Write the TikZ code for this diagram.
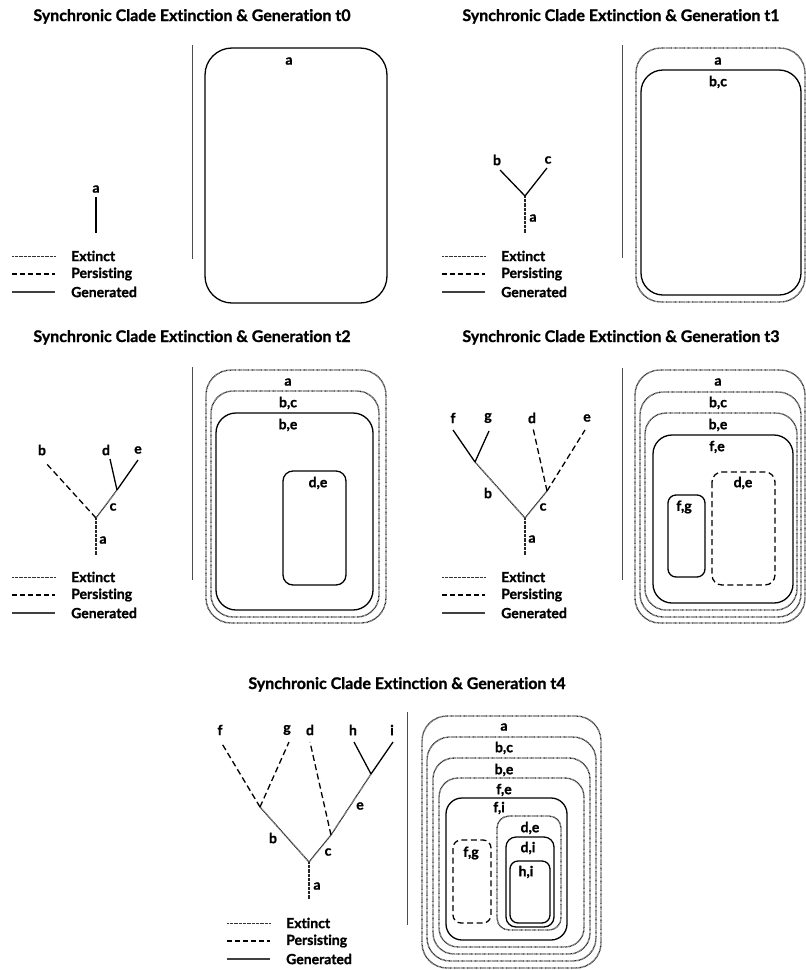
\documentclass[tikz,border=0pt]{standalone}
\usepackage{fontspec}
\setmainfont{Lato}[Ligatures=NoCommon, BoldFeatures={FakeBold=1.2}]
\tikzset{
 ext/.style={line width=1.4pt, dash pattern=on 0.7pt off 0.6pt, black!85},
 pers/.style={line width=1.3pt, dash pattern=on 6pt off 3.5pt},
 gen/.style={line width=1.3pt},
 ttl/.style={font=\fontsize{16}{18}\selectfont\bfseries, anchor=base, inner sep=0pt},
 lbl/.style={font=\fontsize{14}{16}\selectfont\bfseries, inner sep=0pt},
 legtxt/.style={font=\fontsize{14}{16}\selectfont\bfseries, anchor=west, inner sep=0pt},
 divider/.style={line width=1pt, black!70},
 legend/.pic={
   \coordinate (e1) at (0,0); \coordinate (e2) at (43,0);
   \coordinate (p1) at (0,18); \coordinate (p2) at (43,18);
   \coordinate (g1) at (0,36); \coordinate (g2) at (43,36);
   \draw[line width=1pt, dash pattern=on 0.7pt off 0.6pt, black!80] (e1) -- (e2);
   \draw[line width=1.3pt, dash pattern=on 5pt off 3pt] (p1) -- (p2);
   \draw[line width=1.5pt, black!75] (g1) -- (g2);
   \node[legtxt] (te) at (59,0) {Extinct};
   \node[legtxt] (tp) at (59,18) {Persisting};
   \node[legtxt] (tg) at (59,36) {Generated};
 }
}
\begin{document}
\begin{tikzpicture}[x=1pt,y=-1pt]
\useasboundingbox (0,0) rectangle (806,970);
\fill[white] (0,0) rectangle (806,970);

% ================= t0 =================
\node[ttl] (T0) at (192,21) {Synchronic Clade Extinction \& Generation t0};
\coordinate (D0a) at (192,45); \coordinate (D0b) at (192,259);
\draw[divider] (D0a) -- (D0b);
\draw[gen, rounded corners=27pt] (205,48) rectangle (387,303);
\node[lbl] (B0a) at (289,61) {a};
\node[lbl] (L0a) at (96,189) {a};
\coordinate (N0top) at (96,197); \coordinate (N0bot) at (96,233);
\draw[gen] (N0top) -- (N0bot);
\pic (lg0) at (12,256) {legend};

% ================= t1 =================
\node[ttl] (T1) at (621,21) {Synchronic Clade Extinction \& Generation t1};
\coordinate (D1a) at (622,45); \coordinate (D1b) at (622,258);
\draw[divider] (D1a) -- (D1b);
\draw[ext, rounded corners=25pt] (636,48) rectangle (805,302);
\draw[gen, rounded corners=22pt] (641,70) rectangle (801,295);
\node[lbl] (B1a) at (718,61) {a};
\node[lbl] (B1bc) at (718,82) {b,c};
\coordinate (J1) at (525,196); \coordinate (A1) at (525,233);
\coordinate (Bend1) at (500,170); \coordinate (Cend1) at (547,168);
\draw[ext] (J1) -- (A1);
\draw[gen] (J1) -- (Bend1);
\draw[gen] (J1) -- (Cend1);
\node[lbl] (L1b) at (497,160) {b};
\node[lbl] (L1c) at (548,160) {c};
\node[lbl] (L1a) at (533,218) {a};
\pic (lg1) at (442,256) {legend};

% ================= t2 =================
\node[ttl] (T2) at (192,342) {Synchronic Clade Extinction \& Generation t2};
\coordinate (D2a) at (192,367); \coordinate (D2b) at (192,580);
\draw[divider] (D2a) -- (D2b);
\draw[ext, rounded corners=25pt] (206,370) rectangle (386,623);
\draw[ext, rounded corners=22pt] (211,391) rectangle (379,617);
\draw[gen, rounded corners=20pt] (216,413) rectangle (373,610);
\draw[gen, rounded corners=10pt] (283,471) rectangle (346,585);
\node[lbl] (B2a) at (288,382) {a};
\node[lbl] (B2bc) at (288,403) {b,c};
\node[lbl] (B2be) at (288,425) {b,e};
\node[lbl] (B2de) at (318,483) {d,e};
\coordinate (J2) at (96,518); \coordinate (A2) at (96,555);
\coordinate (Bend2) at (45,462); \coordinate (C2) at (117,490);
\coordinate (Dend2) at (110,459); \coordinate (Eend2) at (138,460);
\draw[ext] (J2) -- (A2);
\draw[pers] (J2) -- (Bend2);
\draw[ext] (J2) -- (C2);
\draw[gen] (C2) -- (Dend2);
\draw[gen] (C2) -- (Eend2);
\node[lbl] (L2b) at (42,450) {b};
\node[lbl] (L2d) at (106,450) {d};
\node[lbl] (L2e) at (138,450) {e};
\node[lbl] (L2c) at (113,507) {c};
\node[lbl] (L2a) at (103,540) {a};
\pic (lg2) at (12,577) {legend};

% ================= t3 =================
\node[ttl] (T3) at (621,342) {Synchronic Clade Extinction \& Generation t3};
\coordinate (D3a) at (622,368); \coordinate (D3b) at (622,580);
\draw[divider] (D3a) -- (D3b);
\draw[ext, rounded corners=25pt] (635,370) rectangle (805,623);
\draw[ext, rounded corners=23pt] (640,392) rectangle (801,617);
\draw[ext, rounded corners=21pt] (645,413) rectangle (797,610);
\draw[gen, rounded corners=19pt] (653,435) rectangle (793,603);
\draw[pers, rounded corners=10pt] (712,472) rectangle (775,585);
\draw[gen, rounded corners=8pt] (668,495) rectangle (705,577);
\node[lbl] (B3a) at (718,382) {a};
\node[lbl] (B3bc) at (718,403) {b,c};
\node[lbl] (B3be) at (718,425) {b,e};
\node[lbl] (B3fe) at (717,447) {f,e};
\node[lbl] (B3de) at (743,483) {d,e};
\node[lbl] (B3fg) at (684,507) {f,g};
\coordinate (J3) at (525,518); \coordinate (A3) at (525,555);
\coordinate (Bn3) at (475,462); \coordinate (Cn3) at (547,491);
\coordinate (F3) at (453,430); \coordinate (G3) at (489,431);
\coordinate (Dd3) at (533,428); \coordinate (E3) at (585,430);
\draw[ext] (J3) -- (A3);
\draw[ext] (J3) -- (Bn3);
\draw[ext] (J3) -- (Cn3);
\draw[gen] (Bn3) -- (F3);
\draw[gen] (Bn3) -- (G3);
\draw[pers] (Cn3) -- (Dd3);
\draw[pers] (Cn3) -- (E3);
\node[lbl] (L3f) at (453,418) {f};
\node[lbl] (L3g) at (488,418) {g};
\node[lbl] (L3d) at (532,418) {d};
\node[lbl] (L3e) at (587,418) {e};
\node[lbl] (L3b) at (488,493) {b};
\node[lbl] (L3c) at (543,507) {c};
\node[lbl] (L3a) at (532,539) {a};
\pic (lg3) at (442,577) {legend};

% ================= t4 =================
\node[ttl] (T4) at (407,689) {Synchronic Clade Extinction \& Generation t4};
\coordinate (D4a) at (407,712); \coordinate (D4b) at (407,925);
\draw[divider] (D4a) -- (D4b);
\draw[ext, rounded corners=25pt] (422,716) rectangle (601,968);
\draw[ext, rounded corners=23pt] (427,737) rectangle (596,961);
\draw[ext, rounded corners=21pt] (433,758) rectangle (590,954);
\draw[ext, rounded corners=19pt] (439,778) rectangle (584,947);
\draw[gen, rounded corners=16pt] (446,798) rectangle (567,940);
\draw[ext, rounded corners=12pt] (497,816) rectangle (561,930);
\draw[gen, rounded corners=10pt] (506,837) rectangle (554,927);
\draw[gen, rounded corners=8pt] (510,861) rectangle (550,923);
\draw[pers, rounded corners=8pt] (453,840) rectangle (491,923);
\node[lbl] (B4a) at (504,727) {a};
\node[lbl] (B4bc) at (504,748) {b,c};
\node[lbl] (B4be) at (504,770) {b,e};
\node[lbl] (B4fe) at (504,790) {f,e};
\node[lbl] (B4fi) at (499,808) {f,i};
\node[lbl] (B4de) at (530,828) {d,e};
\node[lbl] (B4di) at (528,848) {d,i};
\node[lbl] (B4hi) at (526,872) {h,i};
\node[lbl] (B4fg) at (471,853) {f,g};
\coordinate (J4) at (309,862); \coordinate (A4) at (309,899);
\coordinate (Bn4) at (260,807); \coordinate (Cn4) at (331,835);
\coordinate (En4) at (371,774);
\coordinate (F4) at (221,742); \coordinate (G4) at (289,742);
\coordinate (Dd4) at (310,742); \coordinate (H4) at (354,742);
\coordinate (I4) at (393,742);
\draw[ext] (J4) -- (A4);
\draw[ext] (J4) -- (Bn4);
\draw[ext] (J4) -- (Cn4);
\draw[ext] (Cn4) -- (En4);
\draw[pers] (Bn4) -- (F4);
\draw[pers] (Bn4) -- (G4);
\draw[pers] (Cn4) -- (Dd4);
\draw[gen] (En4) -- (H4);
\draw[gen] (En4) -- (I4);
\node[lbl] (L4f) at (220,730) {f};
\node[lbl] (L4g) at (287,730) {g};
\node[lbl] (L4d) at (310,730) {d};
\node[lbl] (L4h) at (353,730) {h};
\node[lbl] (L4i) at (392,730) {i};
\node[lbl] (L4b) at (273,838) {b};
\node[lbl] (L4c) at (328,852) {c};
\node[lbl] (L4e) at (360,806) {e};
\node[lbl] (L4a) at (317,886) {a};
\pic (lg4) at (227,923) {legend};
\end{tikzpicture}
\end{document}
